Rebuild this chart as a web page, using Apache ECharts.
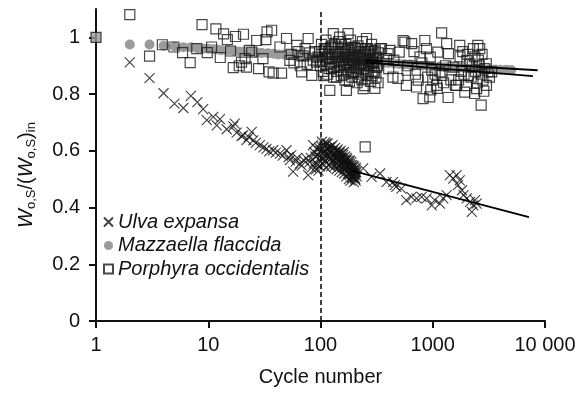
<!DOCTYPE html>
<html>
<head>
<meta charset="utf-8">
<script src="https://cdn.jsdelivr.net/npm/echarts@6/dist/echarts.min.js"></script>
<style>
  html, body { margin: 0; padding: 0; background: #fff; }
  #myChart { width: 581px; height: 396px; }
</style>
</head>
<body>
<div id="myChart"></div>
<script>
// cycle number, W/W_in
var ulva = [
  [2,0.912],[3,0.856],[4,0.803],[5,0.766],[6,0.751],[7,0.794],[8,0.772],[9,0.747],[9.7,0.708],[11.1,0.72],
  [11.9,0.69],[12.7,0.712],[14.6,0.676],[16.7,0.686],[17.2,0.696],[17.9,0.664],[19.8,0.652],[20.5,0.655],[21.9,0.638],[23,0.648],
  [24.4,0.667],[25.2,0.637],[26.5,0.628],[28.8,0.62],[31,0.612],[33,0.607],[35,0.598],[37.9,0.602],[40,0.594],[43.5,0.59],
  [46,0.583],[49.8,0.602],[52,0.578],[53.3,0.567],[55,0.585],[57,0.527],[60,0.562],[62,0.575],[65.4,0.555],[68,0.548],
  [71,0.566],[75,0.573],[77.6,0.514],[80,0.56],[83,0.54],[85.7,0.62],[88,0.595],[90,0.58],[92,0.608],[94,0.55],
  [96,0.53],[98.5,0.567],[100,0.6],[102,0.615],[104,0.59],[106,0.575],[108,0.6],[110,0.63],[113,0.626],[115,0.61],
  [117,0.585],[119,0.6],[121,0.57],[123,0.595],[125,0.615],[127,0.56],[129,0.58],[131,0.605],[134,0.59],[136,0.57],
  [138,0.555],[140,0.6],[143,0.58],[145,0.565],[148,0.59],[150,0.545],[153,0.575],[156,0.56],[159,0.585],[162,0.54],
  [165,0.565],[168,0.55],[171,0.575],[174,0.53],[177,0.555],[180,0.52],[183,0.565],[186,0.54],[189,0.51],[192,0.55],
  [195,0.532],[198,0.49],[201,0.525],[204,0.5],[207,0.54],
  [82,0.575],[87,0.555],[91,0.535],[95,0.585],[97,0.61],[99,0.545],[101,0.575],[103,0.632],[105,0.555],[107,0.615],
  [109,0.565],[111,0.598],[112,0.54],[114,0.585],[116,0.625],[118,0.55],[120,0.612],[122,0.58],[124,0.545],[126,0.6],
  [128,0.62],[130,0.565],[132,0.585],[133,0.545],[135,0.61],[137,0.58],[139,0.535],[141,0.57],[142,0.605],[144,0.55],
  [146,0.595],[147,0.53],[149,0.57],[151,0.6],[152,0.555],[154,0.59],[155,0.525],[157,0.575],[158,0.545],[160,0.565],
  [161,0.595],[163,0.52],[164,0.555],[166,0.58],[167,0.535],[169,0.565],[170,0.51],[172,0.545],[173,0.57],[175,0.52],
  [176,0.545],[178,0.565],[179,0.5],[181,0.54],[182,0.515],[184,0.55],[185,0.495],[187,0.525],[188,0.56],[190,0.535],
  [191,0.505],[193,0.52],[194,0.545],[196,0.51],[197,0.53],[199,0.515],[200,0.545],[202,0.505],[203,0.53],[205,0.52],
  [206,0.495],[208,0.525],[210,0.51],
  [240,0.538],[285,0.508],[339,0.52],[387,0.49],[442,0.49],[458,0.479],[473,0.473],[525,0.467],[580,0.426],[646,0.438],
  [717,0.432],[795,0.438],[882,0.432],[980,0.408],[1040,0.426],[1160,0.414],[1240,0.432],[1330,0.444],[1420,0.514],[1520,0.502],
  [1630,0.514],[1680,0.479],[1740,0.496],[1820,0.461],[1880,0.444],[2010,0.432],[2150,0.42],[2230,0.385],[2300,0.408],[2380,0.426],
  [2460,0.414]
];

var mazzaella = [
  [2,0.975],[3,0.975],[4,0.97],[5,0.968],[6,0.965],[7,0.965],[8,0.962],[9,0.96],[10,0.96],[11,0.958],
  [12,0.957],[13,0.955],[15,0.955],[17,0.952],[19,0.95],[21,0.95],[24,0.948],[27,0.947],[30,0.945],[34,0.944],
  [38,0.942],[42,0.94],[47,0.94],[52,0.938],[58,0.936],[64,0.935],[70,0.933],[78,0.932],[86,0.93],[95,0.93],
  [105,0.928],[115,0.926],[125,0.925],[140,0.924],[155,0.922],[170,0.92],[190,0.92],[210,0.918],[230,0.916],[260,0.915],
  [290,0.913],[320,0.912],[360,0.91],[400,0.91],[450,0.908],[500,0.906],[560,0.905],[630,0.904],[700,0.902],[800,0.9],
  [900,0.9],[1000,0.898],[1150,0.897],[1300,0.895],[1500,0.894],[1700,0.893],[1900,0.892],[2200,0.89],[2500,0.89],[2800,0.889],
  [3200,0.888],[3600,0.887],[4000,0.886],[4500,0.886],[5000,0.885]
];

var porphyra = [
  [1,1.0],[2,1.08],[3,0.934],[3.9,0.974],[4.95,0.966],[5.9,0.946],[6.9,0.911],[7.9,0.96],[8.8,1.045],[9.8,0.946],
  [10.7,0.966],[11.7,1.03],[12.8,0.929],[13.7,1.012],[14.8,0.992],[15.8,0.952],[16.7,0.893],[17.5,1.003],[18.9,0.9],[19.8,0.913],
  [20.6,1.011],[21.3,0.925],[21.9,0.895],[23.2,0.954],[24.4,0.948],[27,0.989],[28.1,0.89],[30.7,0.925],[32.6,0.992],[33.4,1.019],
  [34.8,0.878],[36.7,1.025],[37.9,0.874],[43.5,0.966],[45,0.874],[49.8,0.996],[53.3,0.919],[55,0.94],[58,0.91],[61.4,0.972],
  [63,0.95],[66,0.9],[67.9,0.878],[70,0.935],[73,0.96],[76,0.905],[77.6,0.996],[80,0.945],[83.7,0.866],[86,0.92],
  [89,0.95],[92,0.913],[95,0.93],[98,0.95],[100,0.9],[102,0.975],[104,0.92],[106,0.88],[108,0.96],[110,0.94],
  [112,0.99],[114,0.905],[116,0.87],[118,0.95],[120,0.925],[121,0.813],[123,0.965],[125,0.89],[127,0.94],[130,1.013],
  [131,0.86],[133,0.975],[135,0.91],[138,0.95],[140,0.88],[142,0.93],[145,0.985],[147,0.9],[148,1.001],[150,0.945],
  [153,0.865],[155,0.92],[158,0.96],[160,0.895],[163,0.94],[165,0.85],[168,0.975],[170,0.813],[171,0.91],[173,0.93],
  [176,1.013],[177,0.875],[179,0.955],[182,0.9],[185,0.99],[188,0.92],[191,0.86],[194,0.945],[197,0.905],[200,0.965],
  [204,0.88],[208,0.93],[212,0.84],[216,0.97],[220,0.9],[224,0.95],[228,0.87],[232,0.92],[236,0.985],[240,0.819],
  [242,0.89],[244,0.94],[248,0.83],[250,0.614],[252,0.96],[256,0.91],[257,0.996],[260,0.87],[265,0.95],[270,0.9],
  [275,0.935],[280,0.845],[285,0.975],[290,0.91],[295,0.88],[300,0.95],[305,0.82],[310,0.925],[315,0.895],[340,0.96],
  [99,0.915],[103,0.94],[107,0.865],[111,0.96],[115,0.93],[119,0.89],[124,0.91],[128,0.97],[132,0.895],[136,0.94],
  [139,0.86],[143,0.96],[146,0.915],[151,0.885],[154,0.975],[157,0.93],[161,0.87],[164,0.905],[167,0.95],[172,0.885],
  [175,0.96],[178,0.92],[181,0.845],[184,0.935],[187,0.965],[190,0.895],[193,0.92],[196,0.875],[199,0.94],[202,0.91],
  [206,0.96],[210,0.89],[214,0.925],[218,0.86],[222,0.935],[226,0.905],[230,0.96],[234,0.85],[238,0.93],[246,0.9],
  [250,0.945],[254,0.875],[258,0.92],[262,0.96],[267,0.88],[272,0.92],[278,0.955],[283,0.9],[288,0.865],[293,0.94],
  [298,0.91],[303,0.875],[308,0.955],[312,0.86],[318,0.93],[322,0.9],[326,0.84],[330,0.945],
  [350,0.96],[387,0.925],[400,0.943],[405,0.89],[416,0.954],[442,0.86],[450,0.92],[490,0.855],[503,0.948],[545,0.989],
  [564,0.983],[582,0.831],[590,0.884],[600,0.9],[648,0.978],[680,0.95],[700,0.87],[717,0.825],[742,0.849],[770,0.931],
  [800,0.91],[820,0.784],[850,0.989],[880,0.96],[900,0.86],[940,0.79],[950,0.93],[960,0.815],[980,0.884],[1000,0.85],
  [1050,0.87],[1080,0.831],[1100,0.82],[1110,0.948],[1160,0.878],[1200,1.016],[1210,0.866],[1250,0.84],[1300,0.9],[1330,0.978],
  [1370,0.788],[1380,0.943],[1450,0.85],[1520,0.895],[1590,0.831],[1630,0.831],[1700,0.85],[1740,0.972],[1750,0.931],[1800,0.88],
  [1850,0.95],[1900,0.87],[1930,0.807],[2000,0.83],[2010,0.919],[2050,0.94],[2080,0.866],[2140,0.907],[2200,0.86],[2250,0.9],
  [2300,0.96],[2360,0.802],[2370,0.931],[2400,0.88],[2460,0.819],[2500,0.84],[2520,0.972],[2550,0.92],[2600,0.9],[2620,0.96],
  [2700,0.761],[2720,0.87],[2750,0.94],[2800,0.849],[2850,0.81],[2900,0.89],[3000,0.907],[3010,0.831],[3100,0.878],[3200,0.86],
  [3350,0.878]
];

// fitted trend lines (log-linear), read from end points
var ulvaFit = [[190,0.53],[7200,0.366]];
var mazzaellaFit = [[250,0.92],[8600,0.884]];
var porphyraFit = [[250,0.912],[7800,0.863]];

var names = ['Ulva expansa', 'Mazzaella flaccida', 'Porphyra occidentalis'];
var yTicks = [0, 0.2, 0.4, 0.6, 0.8, 1];
var refCycle = 100;

var FONT = '"Liberation Sans", Arial, Helvetica, sans-serif';

var myChart = echarts.init(document.getElementById('myChart'));

var fitLine = function (data) {
  return {
    type: 'line',
    data: data,
    symbol: 'none',
    silent: true,
    z: 4,
    lineStyle: { color: '#000', width: 1.8 }
  };
};

myChart.setOption({
  animation: false,
  textStyle: { fontFamily: FONT },
  grid: { left: 96, right: 36, top: 9, bottom: 75, containLabel: false },
  legend: {
    data: names,
    orient: 'vertical',
    left: 98,
    top: 207,
    itemWidth: 9,
    itemHeight: 9,
    itemGap: 3.5,
    selectedMode: false,
    textStyle: { fontSize: 20, fontStyle: 'italic', color: '#111', fontFamily: FONT }
  },
  graphic: [{
    type: 'text',
    x: 26,
    y: 175,
    rotation: Math.PI / 2,
    silent: true,
    style: {
      text: '{w|W}{s|o,S}{n|/(}{w|W}{s|o,S}{n|)}{s|in}',
      align: 'center',
      verticalAlign: 'middle',
      fill: '#111',
      rich: {
        w: { fontSize: 20, fontStyle: 'italic', fontFamily: FONT, lineHeight: 24, fill: '#111' },
        n: { fontSize: 20, fontFamily: FONT, lineHeight: 24, fill: '#111' },
        s: { fontSize: 13, fontFamily: FONT, verticalAlign: 'bottom', lineHeight: 14, fill: '#111' }
      }
    }
  }],
  xAxis: {
    type: 'log',
    logBase: 10,
    min: 1,
    max: 10000,
    name: 'Cycle number',
    nameLocation: 'middle',
    nameGap: 46,
    nameTextStyle: { fontSize: 20, color: '#111', fontFamily: FONT },
    axisLine: { lineStyle: { color: '#111', width: 2 } },
    axisTick: { show: true, inside: false, length: 7, lineStyle: { color: '#111', width: 2 } },
    minorTick: { show: false },
    splitLine: { show: false },
    axisLabel: {
      fontSize: 20,
      color: '#111',
      margin: 14,
      fontFamily: FONT,
      formatter: function (v) { return v === 10000 ? '10 000' : String(v); }
    }
  },
  yAxis: {
    type: 'value',
    min: 0,
    max: 1.1,
    axisLine: { show: true, lineStyle: { color: '#111', width: 2 } },
    axisTick: { show: true, length: 7, customValues: yTicks, lineStyle: { color: '#111', width: 2 } },
    splitLine: { show: false },
    axisLabel: { fontSize: 20, color: '#111', margin: 16, fontFamily: FONT, customValues: yTicks }
  },
  series: [
    {
      name: names[0],
      type: 'scatter',
      data: ulva,
      symbol: 'path://M0,0L10,10M0,10L10,0',
      symbolSize: 10,
      itemStyle: { color: 'transparent', borderColor: '#111', borderWidth: 1.1 },
      emphasis: { disabled: true },
      markLine: {
        silent: true,
        symbol: 'none',
        label: { show: false },
        lineStyle: { color: '#111', width: 1.6, type: [5, 3] },
        data: [{ xAxis: refCycle }]
      }
    },
    {
      name: names[1],
      type: 'scatter',
      data: mazzaella,
      symbol: 'circle',
      symbolSize: 10,
      itemStyle: { color: '#9b9b9b', opacity: 1 },
      emphasis: { disabled: true }
    },
    {
      name: names[2],
      type: 'scatter',
      data: porphyra.map(function (p) {
        return p[0] === 1 ? { value: p, itemStyle: { color: '#999' } } : p;
      }),
      symbol: 'rect',
      symbolSize: 10,
      itemStyle: { color: 'transparent', borderColor: '#1a1a1a', borderWidth: 1.2 },
      emphasis: { disabled: true }
    },
    fitLine(ulvaFit),
    fitLine(mazzaellaFit),
    fitLine(porphyraFit)
  ]
});
window.onresize = function () {
  myChart.resize();
};
</script>
</body>
</html>
